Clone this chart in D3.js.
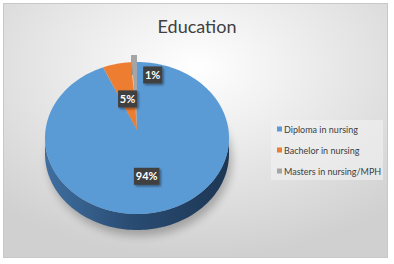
<!DOCTYPE html>
<html>
<head>
<meta charset="utf-8">
<script src="https://cdn.jsdelivr.net/npm/d3@7"></script>
<style>
  body { margin: 0; background: #fff; }
  text { font-family: Lato, "Open Sans", sans-serif; }
</style>
</head>
<body>
<div id="chart"></div>
<script>
// data
let categories = ["Diploma in nursing", "Bachelor in nursing", "Masters in nursing/MPH"];
let values = [94, 5, 1];
let colors = ["#5b9bd5", "#ed7d31", "#a5a5a5"];
let chartTitle = "Education";

let width = 394, height = 264;

let svg = d3.select("#chart")
    .append("svg")
    .attr("width", width)
    .attr("height", height);

let defs = svg.append("defs");

// chart area background
let bg = defs.append("radialGradient")
    .attr("id", "bg")
    .attr("cx", "50%").attr("cy", "25%").attr("r", "75%");
bg.append("stop").attr("offset", "0%").attr("stop-color", "#ffffff");
bg.append("stop").attr("offset", "100%").attr("stop-color", "#d0d0d0");

let side = defs.append("linearGradient")
    .attr("id", "side")
    .attr("x1", "0%").attr("x2", "100%");
side.append("stop").attr("offset", "0%").attr("stop-color", "#3f6fa0");
side.append("stop").attr("offset", "45%").attr("stop-color", "#2a4d74");
side.append("stop").attr("offset", "100%").attr("stop-color", "#1d3654");

let blur = defs.append("filter").attr("id", "blur")
    .attr("x", "-20%").attr("y", "-50%").attr("width", "140%").attr("height", "200%");
blur.append("feGaussianBlur").attr("stdDeviation", 4);

let drop = defs.append("filter").attr("id", "drop")
    .attr("x", "-30%").attr("y", "-30%").attr("width", "170%").attr("height", "170%");
drop.append("feDropShadow").attr("dx", 1.5).attr("dy", 1.5)
    .attr("stdDeviation", 1).attr("flood-color", "#000").attr("flood-opacity", 0.45);

svg.append("rect")
    .attr("x", 3.5).attr("y", 3.5)
    .attr("width", 384).attr("height", 254)
    .attr("fill", "url(#bg)")
    .attr("stroke", "#c8c8c8");

// title
svg.append("text")
    .attr("x", 197)
    .attr("y", 33)
    .attr("text-anchor", "middle")
    .attr("fill", "#404040")
    .style("font-size", "18px")
    .text(chartTitle);

// 3D pie geometry
let cx = 137, cy = 138, rx = 92, ry = 76, depth = 16;
let apex = [137, 130];

function pt(a, f) {
    return [apex[0] + (cx - apex[0]) * f + rx * f * Math.sin(a),
            apex[1] + (cy - apex[1]) * f - ry * f * Math.cos(a)];
}

function arcPoints(a0, a1, dy) {
    let n = Math.max(2, Math.ceil(Math.abs(a1 - a0) / 0.02));
    return d3.range(n + 1).map(function(i) {
        let p = pt(a0 + (a1 - a0) * i / n, 1);
        return [p[0], p[1] + (dy || 0)];
    });
}

let line = d3.line();

let pie = d3.pie().sort(null).value(function(d) { return d; });
let slices = pie(values);

// shadow under the pie
svg.append("ellipse")
    .attr("cx", cx + 3).attr("cy", cy + depth + 6)
    .attr("rx", rx).attr("ry", ry)
    .attr("fill", "#000")
    .attr("opacity", 0.25)
    .attr("filter", "url(#blur)");

// front side of the cylinder (belongs to the big slice)
let front = arcPoints(Math.PI / 2, Math.PI * 1.5, 0);
let back = arcPoints(Math.PI * 1.5, Math.PI / 2, depth);
svg.append("path")
    .attr("d", line(front.concat(back)) + "Z")
    .attr("fill", "url(#side)");

// top faces
let lift = [0, 0, -7];
slices.forEach(function(s, i) {
    let g = svg.append("g").attr("transform", "translate(0," + lift[i] + ")");
    if (lift[i] !== 0) {
        // thin raised slice, show its edge
        let e = arcPoints(s.startAngle, s.endAngle, 0);
        let eb = arcPoints(s.endAngle, s.startAngle, 20);
        g.append("path")
            .attr("d", line(e.concat(eb)) + "Z")
            .attr("fill", "#8c8c8c");
    }
    let pts = [apex].concat(arcPoints(s.startAngle, s.endAngle, 0));
    g.append("path")
        .attr("d", line(pts) + "Z")
        .attr("fill", colors[i]);
});

// data labels
let labelR = [0.56, 0.47, 0.81];
let labelShift = [[0, 0], [0, 0], [18, 0]];
slices.forEach(function(s, i) {
    let mid = (s.startAngle + s.endAngle) / 2;
    let p = pt(mid, labelR[i]);
    let x = p[0] + labelShift[i][0], y = p[1] + labelShift[i][1];
    let txt = values[i] + "%";
    let w = txt.length * 6.5 + 6, h = 17;
    svg.append("rect")
        .attr("x", x - w / 2).attr("y", y - h / 2)
        .attr("width", w).attr("height", h)
        .attr("fill", "#404040")
        .attr("filter", "url(#drop)");
    svg.append("text")
        .attr("x", x).attr("y", y + 4)
        .attr("text-anchor", "middle")
        .attr("fill", "#fff")
        .style("font-size", "11px")
        .style("font-weight", "bold")
        .text(txt);
});

// legend
let legend = svg.append("g").attr("transform", "translate(271,120)");
legend.append("rect")
    .attr("width", 112).attr("height", 60)
    .attr("fill", "#f2f2f2").attr("opacity", 0.6);
categories.forEach(function(c, i) {
    let row = legend.append("g").attr("transform", "translate(0," + (9 + i * 21) + ")");
    row.append("rect")
        .attr("x", 6).attr("y", -2.5)
        .attr("width", 5).attr("height", 5)
        .attr("fill", colors[i]);
    row.append("text")
        .attr("x", 13).attr("y", 3.5)
        .attr("fill", "#404040")
        .style("font-size", "9px")
        .text(c);
});
</script>
</body>
</html>
